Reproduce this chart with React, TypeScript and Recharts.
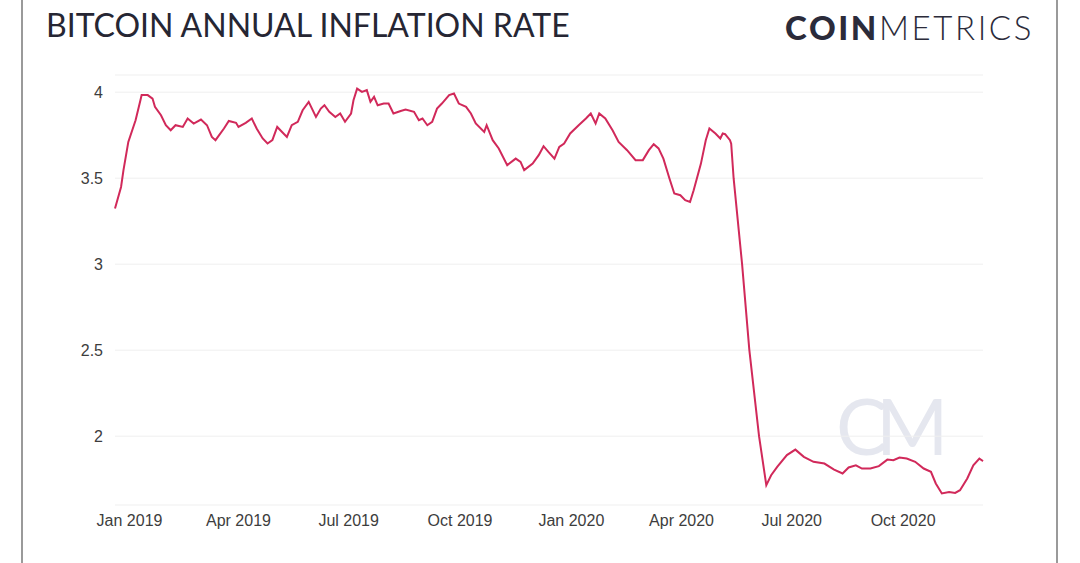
import React from "react";
import { LineChart, Line, XAxis, YAxis, CartesianGrid } from "recharts";

const dates = [
  "2018-12-20","2018-12-25","2018-12-27","2018-12-31","2019-01-06","2019-01-10","2019-01-11","2019-01-16","2019-01-20","2019-01-22",
  "2019-01-27","2019-01-31","2019-02-04","2019-02-08","2019-02-14","2019-02-18","2019-02-23","2019-03-01","2019-03-06","2019-03-10",
  "2019-03-13","2019-03-20","2019-03-24","2019-03-30","2019-04-01","2019-04-07","2019-04-12","2019-04-16","2019-04-21","2019-04-25",
  "2019-04-29","2019-05-03","2019-05-07","2019-05-11","2019-05-15","2019-05-20","2019-05-24","2019-05-29","2019-06-04","2019-06-08",
  "2019-06-11","2019-06-15","2019-06-20","2019-06-24","2019-06-28","2019-07-03","2019-07-05","2019-07-08","2019-07-12","2019-07-16",
  "2019-07-19","2019-07-22","2019-07-25","2019-07-30","2019-08-03","2019-08-07","2019-08-13","2019-08-17","2019-08-24","2019-08-28",
  "2019-08-31","2019-09-04","2019-09-08","2019-09-12","2019-09-16","2019-09-22","2019-09-26","2019-09-30","2019-10-06","2019-10-10",
  "2019-10-14","2019-10-21","2019-10-23","2019-10-28","2019-11-02","2019-11-09","2019-11-16","2019-11-20","2019-11-23","2019-11-30",
  "2019-12-05","2019-12-09","2019-12-13","2019-12-18","2019-12-22","2019-12-26","2019-12-31","2020-01-07","2020-01-13","2020-01-17",
  "2020-01-21","2020-01-24","2020-01-29","2020-02-04","2020-02-09","2020-02-16","2020-02-23","2020-02-29","2020-03-05","2020-03-09",
  "2020-03-13","2020-03-17","2020-03-22","2020-03-26","2020-03-31","2020-04-04","2020-04-08","2020-04-11","2020-04-17","2020-04-21",
  "2020-04-24","2020-04-29","2020-05-03","2020-05-05","2020-05-07","2020-05-11","2020-05-12","2020-05-14","2020-05-21","2020-05-27",
  "2020-06-04","2020-06-10","2020-06-14","2020-06-19","2020-06-27","2020-07-04","2020-07-11","2020-07-19","2020-07-28","2020-08-05",
  "2020-08-12","2020-08-17","2020-08-23","2020-08-28","2020-09-04","2020-09-11","2020-09-18","2020-09-23","2020-09-28","2020-10-04",
  "2020-10-11","2020-10-18","2020-10-24","2020-10-28","2020-11-02","2020-11-08","2020-11-13","2020-11-17","2020-11-23","2020-11-28",
  "2020-12-03","2020-12-05","2020-12-06"
];

const inflationRate = [
  3.324,3.449,3.547,3.711,3.837,3.953,3.983,3.983,3.963,3.915,
  3.866,3.808,3.779,3.808,3.798,3.847,3.818,3.841,3.808,3.740,
  3.721,3.789,3.833,3.822,3.798,3.822,3.847,3.789,3.731,3.702,
  3.721,3.798,3.769,3.740,3.808,3.828,3.895,3.944,3.856,3.905,
  3.924,3.886,3.856,3.876,3.828,3.876,3.953,4.021,4.002,4.012,
  3.944,3.973,3.924,3.934,3.934,3.876,3.891,3.899,3.886,3.837,
  3.847,3.808,3.828,3.905,3.934,3.983,3.992,3.934,3.915,3.876,
  3.818,3.769,3.808,3.721,3.673,3.576,3.614,3.595,3.547,3.585,
  3.634,3.686,3.653,3.614,3.682,3.702,3.760,3.808,3.847,3.876,
  3.818,3.876,3.847,3.779,3.711,3.663,3.605,3.605,3.663,3.698,
  3.673,3.614,3.498,3.411,3.401,3.372,3.362,3.430,3.585,3.721,
  3.789,3.760,3.731,3.760,3.756,3.721,3.700,3.500,3.000,2.500,
  2.000,1.715,1.773,1.822,1.890,1.922,1.880,1.851,1.841,1.806,
  1.783,1.818,1.831,1.812,1.812,1.826,1.864,1.860,1.876,1.870,
  1.851,1.812,1.793,1.725,1.667,1.676,1.670,1.686,1.754,1.831,
  1.870,1.860,1.855
];

const xTickDates = ["2019-01-01","2019-04-01","2019-07-01","2019-10-01","2020-01-01","2020-04-01","2020-07-01","2020-10-01"];
const yTicks = [2, 2.5, 3, 3.5, 4];
const monthNames = ["Jan","Feb","Mar","Apr","May","Jun","Jul","Aug","Sep","Oct","Nov","Dec"];

const toTs = (d: string) => Date.parse(d + "T00:00:00Z");
const data = dates.map((d, i) => ({ t: toTs(d), v: inflationRate[i] }));
const xTicks = xTickDates.map(toTs);
const fmtX = (t: number) => {
  const dt = new Date(t);
  return `${monthNames[dt.getUTCMonth()]} ${dt.getUTCFullYear()}`;
};

export default function App() {
  return (
    <div style={{ position: "absolute", left: 0, top: 0, width: 1080, height: 563, background: "#fff", overflow: "hidden" }}>
      <svg width={1080} height={563} style={{ position: "absolute", left: 0, top: 0 }}>
        <line x1={22} y1={0} x2={22} y2={563} stroke="#9a9a9a" strokeWidth={2} />
        <line x1={1057} y1={0} x2={1057} y2={563} stroke="#9a9a9a" strokeWidth={2} />
        <text x={46} y={37} fontFamily="Lato, 'Open Sans', sans-serif" fontSize={32} fill="#262633">
          BITCOIN ANNUAL INFLATION RATE
        </text>
        <text x={1034} y={40} textAnchor="end" fontFamily="Lato, 'Open Sans', sans-serif" fontSize={33} fill="#2b2b3a" letterSpacing={2.6}>
          <tspan fontWeight={900}>COIN</tspan>
          <tspan fontWeight={300}>METRICS</tspan>
        </text>
        <text x={836} y={455} fontFamily="Lato, 'Open Sans', sans-serif" fontWeight={400} fontSize={78} fill="#e5e7ef" letterSpacing={-12}>
          CM
        </text>
      </svg>
      <div style={{ position: "absolute", left: 0, top: 0 }}>
        <LineChart width={1080} height={563} data={data} margin={{ top: 75, right: 97, bottom: 28, left: 0 }}>
          <CartesianGrid horizontal vertical={false} stroke="#efefef" />
          <XAxis
            dataKey="t"
            type="number"
            scale="time"
            domain={["dataMin", "dataMax"]}
            ticks={xTicks}
            tickFormatter={fmtX}
            axisLine={false}
            tickLine={false}
            tickMargin={4}
            height={30}
            tick={{ fill: "#3d3d3d", fontSize: 16, fontFamily: "'Liberation Sans', Arial, sans-serif" }}
          />
          <YAxis
            type="number"
            domain={[1.6, 4.1]}
            ticks={yTicks}
            allowDataOverflow
            axisLine={false}
            tickLine={false}
            tickMargin={6}
            width={115}
            tick={{ fill: "#3d3d3d", fontSize: 16, fontFamily: "'Liberation Sans', Arial, sans-serif" }}
          />
          <Line type="linear" dataKey="v" stroke="#d1295a" strokeWidth={2} dot={false} isAnimationActive={false} />
        </LineChart>
      </div>
    </div>
  );
}
